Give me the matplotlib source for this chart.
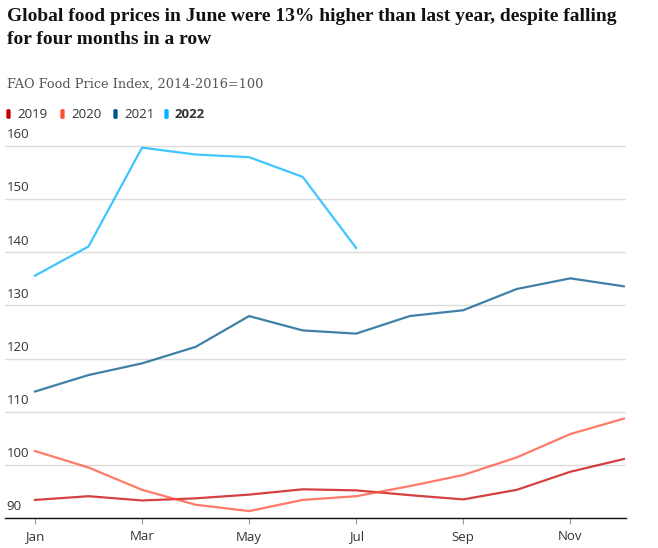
import matplotlib
matplotlib.use("Agg")
import matplotlib.pyplot as plt
from matplotlib.patches import FancyBboxPatch
from matplotlib.transforms import blended_transform_factory

months = ["Jan", "Feb", "Mar", "Apr", "May", "Jun", "Jul", "Aug", "Sep", "Oct", "Nov", "Dec"]
tick_months = ["Jan", "Mar", "May", "Jul", "Sep", "Nov"]
y_ticks = [90, 100, 110, 120, 130, 140, 150, 160]

years = ["2019", "2020", "2021", "2022"]
v2019 = [93.4, 94.1, 93.3, 93.7, 94.4, 95.4, 95.2, 94.3, 93.5, 95.3, 98.7, 101.1]
v2020 = [102.6, 99.5, 95.3, 92.5, 91.3, 93.4, 94.1, 96.0, 98.1, 101.4, 105.8, 108.7]
v2021 = [113.8, 116.9, 119.1, 122.2, 128.0, 125.3, 124.7, 128.0, 129.1, 133.1, 135.1, 133.6]
v2022 = [135.6, 141.1, 159.7, 158.4, 157.9, 154.2, 140.8]
colors = ["#c70000", "#ff4e36", "#005689", "#00b2ff"]

sans = ["Open Sans", "DejaVu Sans"]
serif = ["Liberation Serif", "DejaVu Serif"]

fig = plt.figure(figsize=(6.58, 5.48), dpi=100)
ax = fig.add_axes([5 / 658, 30 / 548, 621 / 658, (518 - 135.4) / 548])

for vals, c in zip([v2019, v2020, v2021, v2022], colors):
    ax.plot(range(len(vals)), vals, color=c, lw=1.6, alpha=0.75, solid_joinstyle="miter")

ax.set_xlim(-0.56, 11.04)
ax.set_ylim(90, 162)
ax.set_yticks(y_ticks)
ax.yaxis.grid(True, color="#dcdcdc", lw=1)
ax.set_axisbelow(True)
ax.tick_params(axis="y", length=0, labelleft=False)
ax.set_xticks([months.index(m) for m in tick_months])
ax.set_xticklabels(tick_months, fontsize=9.5, color="#333333", family=sans)
ax.tick_params(axis="x", length=4, color="#999999", pad=5)
for s in ["top", "right", "left"]:
    ax.spines[s].set_visible(False)
ax.spines["bottom"].set_color("#121212")
ax.spines["bottom"].set_linewidth(1)

tr = blended_transform_factory(ax.transAxes, ax.transData)
for t in y_ticks:
    ax.text(0.003, t + 0.9, str(t), transform=tr, ha="left", va="bottom",
            fontsize=9.5, color="#333333", family=sans)

fig.text(7 / 658, 1 - 8 / 548,
         "Global food prices in June were 13% higher than last year, despite falling\nfor four months in a row",
         ha="left", va="top", fontsize=14, fontweight="bold", family=serif,
         color="#121212", linespacing=1.45)
fig.text(7 / 658, 1 - 84 / 548, "FAO Food Price Index, 2014-2016=100",
         ha="left", va="center", fontsize=9.3, family=["DejaVu Serif"], color="#555555")

legend_x = [8, 62, 115, 166]
for yr, c, lx in zip(years, colors, legend_x):
    fig.patches.append(FancyBboxPatch((lx / 658, 1 - 117.5 / 548), 1 / 658, 7 / 548,
                                      boxstyle="round,pad=0.0025", fc=c, ec="none",
                                      transform=fig.transFigure, figure=fig))
    fig.text((lx + 9) / 658, 1 - 114 / 548, yr, ha="left", va="center", fontsize=9.5,
             family=sans, color="#333333",
             fontweight="bold" if yr == "2022" else "normal")

fig.savefig("out.png", dpi=100)
